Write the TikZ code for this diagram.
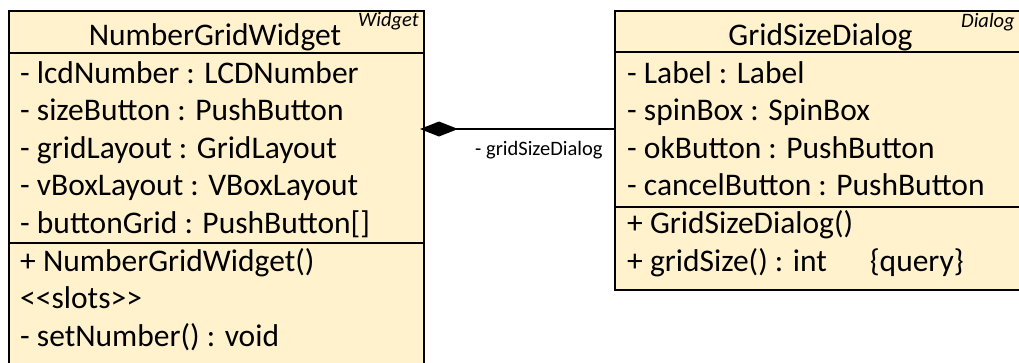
\documentclass[tikz,border=0pt]{standalone}
\usepackage{fontspec}
\setmainfont{Carlito}
\usetikzlibrary{arrows.meta}
\definecolor{classfill}{HTML}{FFF2CC}
\tikzset{
  umlbox/.style={draw=black, fill=classfill, line width=2pt, inner sep=0pt, anchor=north west},
  sep/.style={draw=black, line width=2pt},
  member/.style={anchor=base west, inner sep=0pt, font=\fontsize{31.5}{36}\selectfont},
  title/.style={anchor=base, inner sep=0pt, font=\fontsize{31.5}{36}\selectfont},
  stereo/.style={anchor=base east, inner sep=0pt, font=\fontsize{20.5}{24}\selectfont\itshape},
  rolelabel/.style={anchor=base west, inner sep=0pt, font=\fontsize{20.5}{24}\selectfont},
  composition/.style={draw=black, line width=2pt, -{Diamond[length=38pt,width=15pt,fill=black]}, shorten >=-5pt}
}
\begin{document}
\begin{tikzpicture}[x=1pt,y=-1pt]
\useasboundingbox (0,0) rectangle (1019,362);
\clip (0,0) rectangle (1019,362);
% NumberGridWidget
\node[umlbox, minimum width=415pt, minimum height=380pt] (ngw) at (8,10) {};
\draw[sep] (ngw.west |- 0,53) -- (ngw.east |- 0,53);
\draw[sep] (ngw.west |- 0,243) -- (ngw.east |- 0,243);
\node[title] (ngwt) at (215,45) {NumberGridWidget};
\node[stereo] (ngws) at (419,26) {Widget};
\node[member] (n1) at (20,83) {- lcdNumber : LCDNumber};
\node[member] (n2) at (20,120.5) {- sizeButton : PushButton};
\node[member] (n3) at (20,158) {- gridLayout : GridLayout};
\node[member] (n4) at (20,195.5) {- vBoxLayout : VBoxLayout};
\node[member] (n5) at (20,233) {- buttonGrid : PushButton[]};
\node[member] (n6) at (20,271) {+ NumberGridWidget()};
\node[member] (n7) at (20,308.5) {<{}<slots>{}>};
\node[member] (n8) at (20,346) {- setNumber() : void};
% GridSizeDialog
\node[umlbox, minimum width=414pt, minimum height=279pt] (gsd) at (614,10) {};
\draw[sep] (gsd.west |- 0,52) -- (gsd.east |- 0,52);
\draw[sep] (gsd.west |- 0,207) -- (gsd.east |- 0,207);
\node[title] (gsdt) at (820.5,45) {GridSizeDialog};
\node[stereo] (gsds) at (1015,27) {Dialog};
\node[member] (g1) at (627,83) {- Label : Label};
\node[member] (g2) at (627,120.5) {- spinBox : SpinBox};
\node[member] (g3) at (627,158) {- okButton : PushButton};
\node[member] (g4) at (627,195.5) {- cancelButton : PushButton};
\node[member] (g5) at (627,233.5) {+ GridSizeDialog()};
\node[member] (g6) at (627,271) {+ gridSize() : int\hspace{43pt}\{query\}};
% composition
\draw[composition] (gsd.west |- 0,129) -- (ngw.east |- 0,129);
\node[rolelabel] (role) at (475,155) {- gridSizeDialog};
\end{tikzpicture}
\end{document}
